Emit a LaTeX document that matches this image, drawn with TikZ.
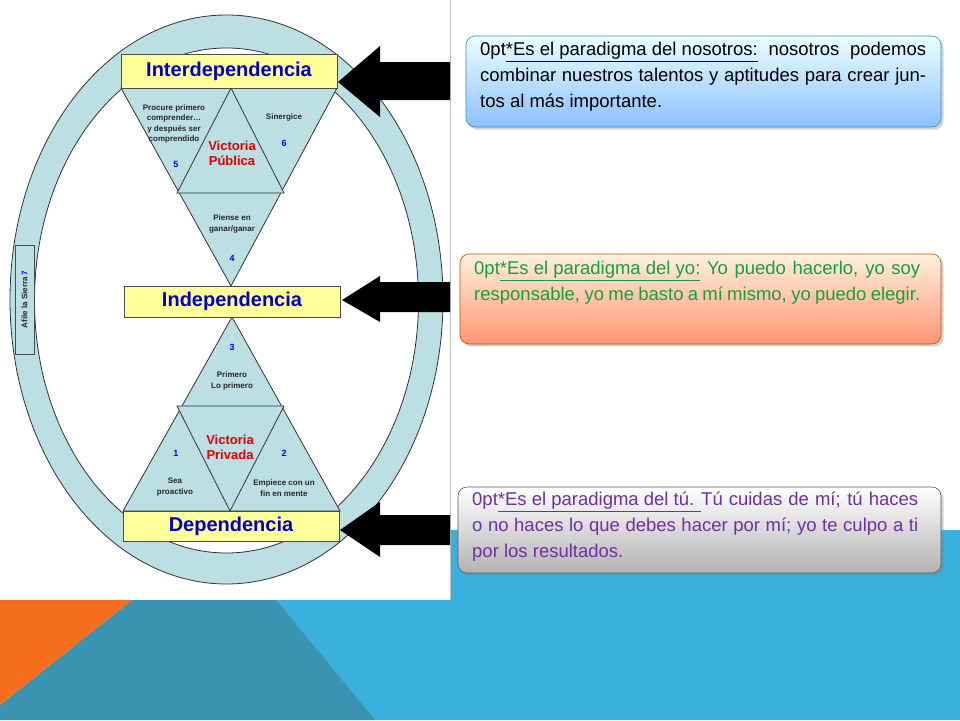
\documentclass[tikz,border=0pt]{standalone}
\usepackage{fontspec}
\setmainfont{Liberation Sans}
\usetikzlibrary{shadows}
\definecolor{ringblue}{RGB}{188,223,228}
\definecolor{labelyellow}{RGB}{255,255,153}
\definecolor{slidelight}{RGB}{58,176,222}
\definecolor{slidedark}{RGB}{58,147,176}
\definecolor{slideorange}{RGB}{245,110,30}
\definecolor{textgreen}{RGB}{20,160,60}
\definecolor{textpurple}{RGB}{112,48,160}
\tikzset{
  tri/.style={draw=black!80, fill=ringblue, line width=0.8pt},
  level/.style={draw=black!70, fill=labelyellow, line width=0.8pt, font=\bfseries\fontsize{20}{22}\selectfont, text=blue!80!black},
  small/.style={font=\bfseries\fontsize{8}{10.5}\selectfont, align=center, text=black!85},
  num/.style={font=\bfseries\fontsize{9}{11}\selectfont, text=blue},
  victory/.style={font=\bfseries\fontsize{13}{15}\selectfont, align=center, text=red!90!black},
  note/.style={rounded corners=9pt, draw=#1!70!black, line width=0.6pt, drop shadow={opacity=0.35}},
  notetext/.style={text width=446pt, align=justify, font=\fontsize{18.5}{26}\selectfont\hyphenpenalty=10000, inner sep=0pt},
  bigarrow/.style={fill=black}
}
\begin{document}
\begin{tikzpicture}[x=1pt,y=1pt,yscale=-1]
\useasboundingbox (0,0) rectangle (960,720);

% slide background
\fill[slidelight] (450,530) rectangle (960,720);
\fill[slidelight] (276,600) rectangle (450,720);
\fill[slidedark] (132,600) -- (276,600) -- (375,720) -- (0,720) -- (0,705) -- cycle;
\fill[slideorange] (0,600) -- (132,600) -- (0,705) -- cycle;
\fill[white] (0,0) rectangle (450,600);
\draw[black!25] (450,0) -- (450,600);

% ring
\fill[ringblue, draw=black!80, line width=0.8pt, even odd rule]
  (226.5,299.5) ellipse [x radius=216.5, y radius=284.5]
  (226.5,300.5) ellipse [x radius=192, y radius=252.5];

% upper triangles
\coordinate (ul) at (121,88);
\coordinate (um) at (231,88);
\coordinate (ur) at (337,88);
\coordinate (uml) at (177,193);
\coordinate (umr) at (284,193);
\coordinate (uapex) at (231,286);
\draw[tri] (ul) -- (ur) -- (uapex) -- cycle;
\draw[tri] (um) -- (uml) -- (umr) -- cycle;
% lower triangles
\coordinate (lapex) at (232,317);
\coordinate (lml) at (177,406);
\coordinate (lmr) at (284,406);
\coordinate (ll) at (123,511);
\coordinate (lm) at (230,511);
\coordinate (lr) at (340,511);
\draw[tri] (lapex) -- (lr) -- (ll) -- cycle;
\draw[tri] (lml) -- (lmr) -- (lm) -- cycle;

% level labels
\node[level, minimum width=216pt, minimum height=34pt] (inter) at (229,71) {Interdependencia};
\node[level, minimum width=216pt, minimum height=31pt] (indep) at (232,301.5) {Independencia};
\node[level, minimum width=216pt, minimum height=30pt] (dep) at (231,526) {Dependencia};

% habit texts
\node[small] (h5) at (174,124) {Procure primero\\comprender\dots\\y después ser\\comprendido};
\node[num] (n5) at (176,164) {5};
\node[small] (h6) at (284,117) {Sinergice};
\node[num] (n6) at (284,143) {6};
\node[victory] (pub) at (232,153) {Victoria\\Pública};
\node[small] (h4) at (232,224) {Piense en\\ganar/ganar};
\node[num] (n4) at (232,258) {4};
\node[num] (n3) at (232,347) {3};
\node[small] (h3) at (232,381) {Primero\\Lo primero};
\node[victory] (priv) at (230,447) {Victoria\\Privada};
\node[num] (n1) at (176,453) {1};
\node[small] (h1) at (175,487) {Sea\\proactivo};
\node[num] (n2) at (284,453) {2};
\node[small] (h2) at (284,488) {Empiece con un\\fin en mente};
\node[draw=black!70, line width=0.8pt, minimum width=109pt, minimum height=19pt, rotate=90,
  font=\bfseries\fontsize{8}{10}\selectfont, text=black!85] (saw) at (24.5,299.5)
  {Afile la Sierra {\color{blue}7}};

% arrows
\fill[bigarrow] (450,62) -- (380,62) -- (380,46) -- (338,82) -- (380,117) -- (380,100) -- (450,100) -- cycle;
\fill[bigarrow] (450,282) -- (380,282) -- (380,276) -- (342,300) -- (380,322) -- (380,312) -- (450,312) -- cycle;
\fill[bigarrow] (450,515) -- (380,515) -- (380,502) -- (340,530) -- (380,557) -- (380,545) -- (450,545) -- cycle;

% notes
\shade[note=cyan, top color=cyan!8, bottom color=cyan!45!blue!45] (466,36) rectangle (941,127);
\node[notetext, anchor=north west] (t1) at (480,42)
  {\underline{*Es el paradigma del nosotros:} nosotros podemos combinar nuestros talentos y aptitudes para crear juntos al más importante.};
\shade[note=orange, top color=orange!12, bottom color=red!50!orange!55] (460,254) rectangle (941,344);
\node[notetext, text=textgreen, anchor=north west] (t2) at (474,261)
  {\underline{*Es el paradigma del yo:} Yo puedo hacerlo, yo soy responsable, yo me basto a mí mismo, yo puedo elegir.};
\shade[note=gray, top color=white, bottom color=black!30] (458,487) rectangle (941,573);
\node[notetext, text=textpurple, anchor=north west] (t3) at (472,492)
  {\underline{*Es el paradigma del tú. }Tú cuidas de mí; tú haces o no haces lo que debes hacer por mí; yo te culpo a ti por los resultados.};
\end{tikzpicture}
\end{document}
